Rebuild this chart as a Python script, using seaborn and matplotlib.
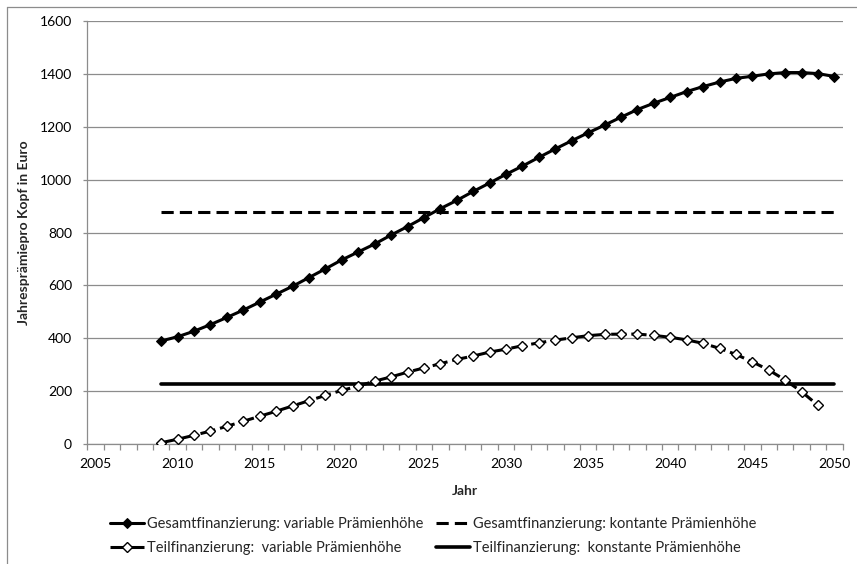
import numpy as np
import pandas as pd
import seaborn as sns
import matplotlib
matplotlib.use("Agg")
from matplotlib import pyplot as plt
from matplotlib.lines import Line2D
from matplotlib.ticker import MultipleLocator, FixedLocator

# values
years_gesamt = list(range(2009, 2051))
gesamt_variabel = [390, 406, 427, 452, 479, 507, 537, 567, 597, 630,
                   663, 697, 727, 757, 791, 823, 857, 891, 922, 956,
                   988, 1021, 1052, 1085, 1117, 1148, 1178, 1207, 1237, 1266,
                   1290, 1312, 1334, 1353, 1370, 1384, 1392, 1401, 1406, 1406,
                   1402, 1391]
years_teil = list(range(2009, 2050))
teil_variabel = [5, 18, 33, 49, 67, 86, 105, 124, 144, 164,
                 184, 203, 219, 238, 254, 272, 288, 304, 320, 333,
                 348, 359, 372, 383, 393, 402, 410, 415, 416, 416,
                 411, 404, 394, 381, 362, 339, 311, 280, 242, 198,
                 146]
gesamt_konstant = 878
teil_konstant = 226

labels = ["Gesamtfinanzierung: variable Prämienhöhe",
          "Gesamtfinanzierung: kontante Prämienhöhe",
          "Teilfinanzierung:  variable Prämienhöhe",
          "Teilfinanzierung:  konstante Prämienhöhe"]

df_g = pd.DataFrame({"Jahr": years_gesamt, "wert": gesamt_variabel})
df_t = pd.DataFrame({"Jahr": years_teil, "wert": teil_variabel})
df_gk = pd.DataFrame({"Jahr": years_gesamt, "wert": [gesamt_konstant] * len(years_gesamt)})
df_tk = pd.DataFrame({"Jahr": years_gesamt, "wert": [teil_konstant] * len(years_gesamt)})

sns.set_style("white")
plt.rcParams["font.family"] = ["Lato", "DejaVu Sans"]
grey = "#8c8c8c"

fig = plt.figure(figsize=(8.57, 5.64), dpi=100)
ax = fig.add_axes([87.3 / 857, 1 - 444 / 564, 755.4 / 857, 422.7 / 564])

lw = 2.2
sns.lineplot(data=df_gk, x="Jahr", y="wert", ax=ax, color="black", lw=lw,
             linestyle=(0, (4, 2)), label=labels[1], zorder=3)
sns.lineplot(data=df_tk, x="Jahr", y="wert", ax=ax, color="black", lw=2.6,
             label=labels[3], zorder=3)
sns.lineplot(data=df_t, x="Jahr", y="wert", ax=ax, color="black", lw=lw,
             linestyle=(0, (5, 1.6)), marker="D", markersize=5,
             markerfacecolor="white", markeredgecolor="black", markeredgewidth=1.0,
             label=labels[2], zorder=4)
sns.lineplot(data=df_g, x="Jahr", y="wert", ax=ax, color="black", lw=lw,
             marker="D", markersize=5, markeredgecolor="black",
             label=labels[0], zorder=5)

ax.set_xlim(2004.5, 2050.5)
ax.set_ylim(0, 1600)
ax.yaxis.set_major_locator(MultipleLocator(200))
ax.xaxis.set_major_locator(FixedLocator(list(range(2005, 2051, 5))))
ax.xaxis.set_minor_locator(FixedLocator([y + 0.5 for y in range(2004, 2051)]))
ax.grid(axis="y", color=grey, lw=0.9)
ax.set_axisbelow(True)

for s in ["top", "right"]:
    ax.spines[s].set_visible(False)
for s in ["left", "bottom"]:
    ax.spines[s].set_color(grey)
    ax.spines[s].set_linewidth(0.9)

ax.tick_params(axis="y", which="major", left=True, length=3, width=0.9,
               color=grey, pad=8, labelsize=10, labelcolor="black")
ax.tick_params(axis="x", which="major", bottom=True, length=0, pad=10,
               labelsize=10, labelcolor="black")
ax.tick_params(axis="x", which="minor", bottom=True, length=4, width=0.9, color=grey)

ax.set_xlabel("Jahr", fontsize=10, fontweight="bold")
ax.set_ylabel("Jahresprämiepro Kopf in Euro", fontsize=10, fontweight="bold")
ax.xaxis.set_label_coords(0.5, -0.097)
ax.yaxis.set_label_coords(-0.076, 0.5)

handles, labs = ax.get_legend_handles_labels()
order = [labs.index(labels[0]), labs.index(labels[2]), labs.index(labels[1]), labs.index(labels[3])]
ax.get_legend().remove()
fig.legend([handles[i] for i in order], [labs[i] for i in order], ncol=2,
           loc="center", bbox_to_anchor=(433 / 857, 1 - 536 / 564), frameon=False,
           fontsize=10.5, handlelength=2.3, handletextpad=0.2, columnspacing=0.9,
           labelspacing=0.65)

# chart area border (top and left edges visible)
fig.add_artist(Line2D([7 / 857, 1], [1 - 7 / 564, 1 - 7 / 564], color=grey, lw=0.9))
fig.add_artist(Line2D([7 / 857, 7 / 857], [0, 1 - 7 / 564], color=grey, lw=0.9))

fig.savefig("out.png", dpi=100)
